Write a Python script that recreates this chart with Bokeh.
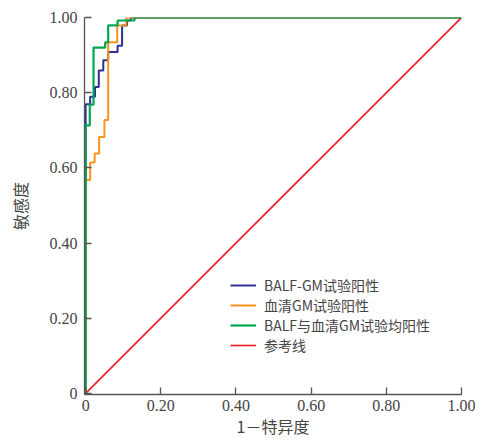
from bokeh.plotting import figure
from bokeh.models import Range1d, FixedTicker, Legend, LegendItem
from bokeh.embed import file_html
from bokeh.resources import INLINE

# ROC corner points
balf_fpr = [0, 0, 0.012, 0.012, 0.025, 0.025, 0.035, 0.035, 0.047, 0.047, 0.06, 0.06,
            0.085, 0.085, 0.097, 0.097, 0.11, 0.11, 0.12, 0.12, 1.0]
balf_tpr = [0, 0.769, 0.769, 0.789, 0.789, 0.815, 0.815, 0.859, 0.859, 0.886, 0.886, 0.908,
            0.908, 0.925, 0.925, 0.979, 0.979, 0.992, 0.992, 1.0, 1.0]

serum_fpr = [0, 0, 0.012, 0.012, 0.024, 0.024, 0.036, 0.036, 0.05, 0.05, 0.06, 0.06,
             0.084, 0.084, 0.108, 0.108, 1.0]
serum_tpr = [0, 0.568, 0.568, 0.614, 0.614, 0.638, 0.638, 0.682, 0.682, 0.727, 0.727, 0.934,
             0.934, 0.979, 0.979, 1.0, 1.0]

both_fpr = [0, 0, 0.011, 0.011, 0.021, 0.021, 0.052, 0.052, 0.06, 0.06, 0.085, 0.085,
            0.13, 0.13, 1.0]
both_tpr = [0, 0.713, 0.713, 0.768, 0.768, 0.92, 0.92, 0.934, 0.934, 0.979, 0.979, 0.992,
            0.992, 1.0, 1.0]

ref_x = [0, 1]
ref_y = [0, 1]

tick_vals = [0, 0.2, 0.4, 0.6, 0.8, 1.0]
tick_labels = ["0", "0.20", "0.40", "0.60", "0.80", "1.00"]

series_names = ["BALF-GM试验阳性", "血清GM试验阳性", "BALF与血清GM试验均阳性", "参考线"]
series_colors = ["#2E3192", "#F7941D", "#00A651", "#ED1C24"]

p = figure(width=475, height=441, output_backend="svg", toolbar_location=None,
           x_range=Range1d(-0.003, 1.0), y_range=Range1d(-0.003, 1.0),
           min_border_left=84, min_border_right=14, min_border_top=17, min_border_bottom=47)
p.outline_line_color = None
p.grid.visible = False
p.background_fill_color = "white"

r_ref = p.line(ref_x, ref_y, line_color=series_colors[3], line_width=1.6)
r_balf = p.line(balf_fpr, balf_tpr, line_color=series_colors[0], line_width=2)
r_serum = p.line(serum_fpr, serum_tpr, line_color=series_colors[1], line_width=2)
r_both = p.line(both_fpr, both_tpr, line_color=series_colors[2], line_width=2.2)

for ax in (p.xaxis[0], p.yaxis[0]):
    ax.ticker = FixedTicker(ticks=tick_vals)
    ax.major_label_overrides = {v: l for v, l in zip(tick_vals, tick_labels)}
    ax.axis_line_color = "#555555"
    ax.axis_line_width = 1.3
    ax.major_tick_line_color = "#555555"
    ax.major_tick_line_width = 1.3
    ax.major_tick_in = 7
    ax.major_tick_out = 0
    ax.minor_tick_line_color = None
    ax.major_label_text_font = "Liberation Serif"
    ax.major_label_text_font_size = "16px"
    ax.major_label_text_color = "#444444"
    ax.axis_label_text_font = "Noto Sans CJK SC"
    ax.axis_label_text_font_size = "16px"
    ax.axis_label_text_font_style = "normal"
    ax.axis_label_text_color = "#444444"

p.xaxis[0].axis_label = "1－特异度"
p.yaxis[0].axis_label = "敏感度"
p.xaxis[0].major_label_standoff = 5
p.xaxis[0].axis_label_standoff = 0
p.yaxis[0].major_label_standoff = 7
p.yaxis[0].axis_label_standoff = 15

legend = Legend(items=[
    LegendItem(label=series_names[0], renderers=[r_balf]),
    LegendItem(label=series_names[1], renderers=[r_serum]),
    LegendItem(label=series_names[2], renderers=[r_both]),
    LegendItem(label=series_names[3], renderers=[r_ref]),
], location=(146, 39))
legend.background_fill_alpha = 0
legend.border_line_color = None
legend.label_text_font = "Noto Sans CJK SC"
legend.label_text_font_size = "14px"
legend.label_text_color = "#444444"
legend.glyph_width = 26
legend.glyph_height = 14
legend.label_height = 14
legend.spacing = 0
legend.padding = 4
legend.label_standoff = 8
p.add_layout(legend, "center")

open("out.html", "w").write(file_html(p, INLINE))
